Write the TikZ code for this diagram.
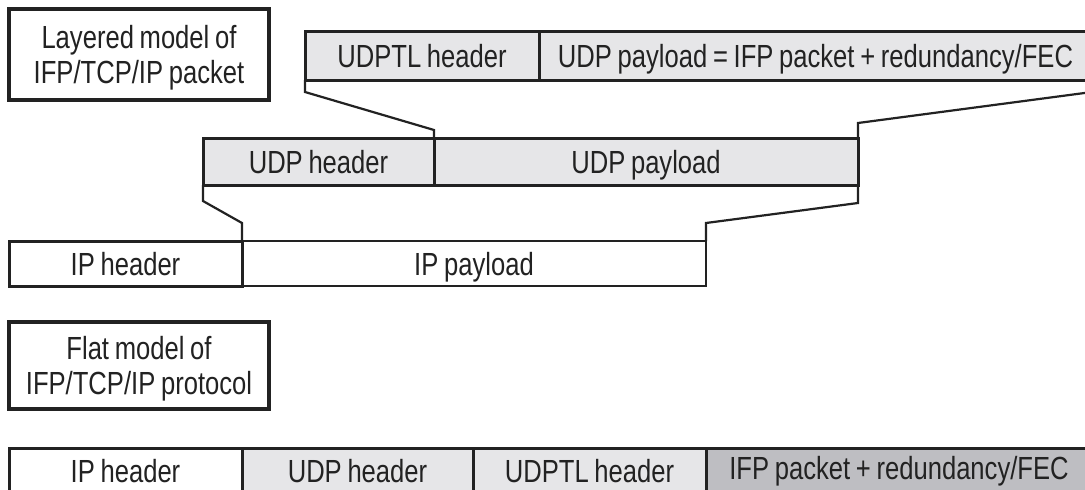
\documentclass[tikz,border=0pt]{standalone}
\usepackage{fontspec}
\setmainfont{Liberation Sans}[FakeStretch=0.8, WordSpace=0.8]
\usetikzlibrary{calc}

\definecolor{ink}{HTML}{222222}
\definecolor{paleband}{HTML}{E6E6E8}
\definecolor{darkband}{HTML}{BEBEC2}

\begin{document}
\begin{tikzpicture}[x=1pt,y=-1pt,
  cell/.style={draw=ink, line width=3pt, rectangle, inner sep=0pt, outer sep=0pt,
    anchor=north west, text=ink, font=\fontsize{32}{35}\selectfont,
    text height=23pt, text depth=0pt},
  pale/.style={cell, fill=paleband},
  plain/.style={cell, fill=white},
  shaded/.style={cell, fill=darkband},
  thinrim/.style={line width=1.8pt},
  tag/.style={draw=ink, line width=3.2pt, rectangle, inner sep=0pt, outer sep=0pt,
    anchor=north west, text=ink, align=center, font=\fontsize{32}{35}\selectfont},
  link/.style={draw=ink, line width=2.2pt, line join=miter}
]
\useasboundingbox (0,0) rectangle (1085,490);
\clip (0,0) rectangle (1085,490);
\fill[white] (0,0) rectangle (1085,490);

% caption boxes
\node[tag, minimum width=260pt, minimum height=91pt] (layered) at (9,9)
  {Layered model of\\IFP/TCP/IP \smash{packet}};
\node[tag, minimum width=260pt, minimum height=87pt] (flat) at (9,322)
  {Flat model of\\IFP/TCP/IP \smash{protocol}};

% UDPTL layer
\node[pale, minimum width=234pt, minimum height=49pt] (udptlh) at (305,31) {UDPTL header};
\node[pale, minimum width=553pt, minimum height=49pt] (udptlp) at (539,31)
  {UDP payload = IFP packet + redundancy/FEC};

% UDP layer
\node[pale, minimum width=231pt, minimum height=47pt] (udph) at (203,138) {UDP header};
\node[pale, minimum width=424pt, minimum height=47pt] (udpp) at (434,138) {UDP payload};

% IP layer
\node[plain, thinrim, minimum width=464pt, minimum height=45pt] (ipp) at (242,241) {IP payload};
\node[plain, minimum width=233pt, minimum height=45pt] (iph) at (9,241) {IP header};

% flat packet
\node[plain, minimum width=233pt, minimum height=45pt] (fip) at (9,448) {IP header};
\node[pale, minimum width=231pt, minimum height=45pt] (fudp) at (242,448) {UDP header};
\node[pale, minimum width=233pt, minimum height=45pt] (fudptl) at (473,448) {UDPTL header};
\node[shaded, text height=17pt, minimum width=386pt, minimum height=45pt] (fifp) at (706,448)
  {IFP packet + redundancy/FEC};

% encapsulation connectors
\draw[link] (udptlh.south west) -- ++(0,12) -- ($(udph.north east)+(0,-8)$) -- (udph.north east);
\draw[link] (udptlp.south east) -- ++(0,12) -- ($(udpp.north east)+(0,-15)$) -- (udpp.north east);
\draw[link] (udph.south west) -- ++(0,16) -- ($(iph.north east)+(0,-18)$) -- (iph.north east);
\draw[link] (udpp.south east) -- ++(0,18) -- ($(ipp.north east)+(0,-18)$) -- (ipp.north east);
\end{tikzpicture}
\end{document}
